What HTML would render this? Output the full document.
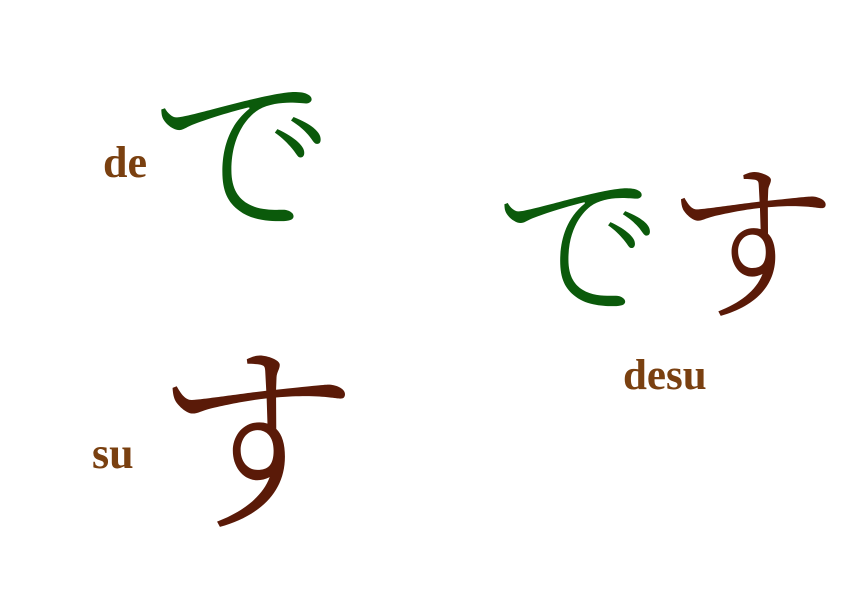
<!DOCTYPE html>
<html><head><meta charset="utf-8"><style>
html,body{margin:0;padding:0;background:#fff;width:856px;height:616px;overflow:hidden}
svg{display:block}
.k{font-family:"Noto Serif CJK SC","Noto Sans CJK JP",serif;font-weight:300}
.l{font-family:"Liberation Serif",serif;font-weight:700;fill:#7a4010}
</style></head><body>
<svg width="856" height="616" viewBox="0 0 856 616">
<text class="l" x="103" y="177" font-size="44">de</text>
<text class="k" x="243" y="221" font-size="184" text-anchor="middle" fill="#0b5a0b">で</text>
<text class="l" x="92" y="468" font-size="44">su</text>
<text class="k" x="256" y="514" font-size="205" text-anchor="middle" fill="#5a1a08">す</text>
<text class="k" x="579" y="306" font-size="168" text-anchor="middle" fill="#0b5a0b">で</text>
<text class="k" x="751" y="305" font-size="172" text-anchor="middle" fill="#5a1a08">す</text>
<text class="l" x="623" y="389" font-size="43">desu</text>
</svg>
</body></html>
